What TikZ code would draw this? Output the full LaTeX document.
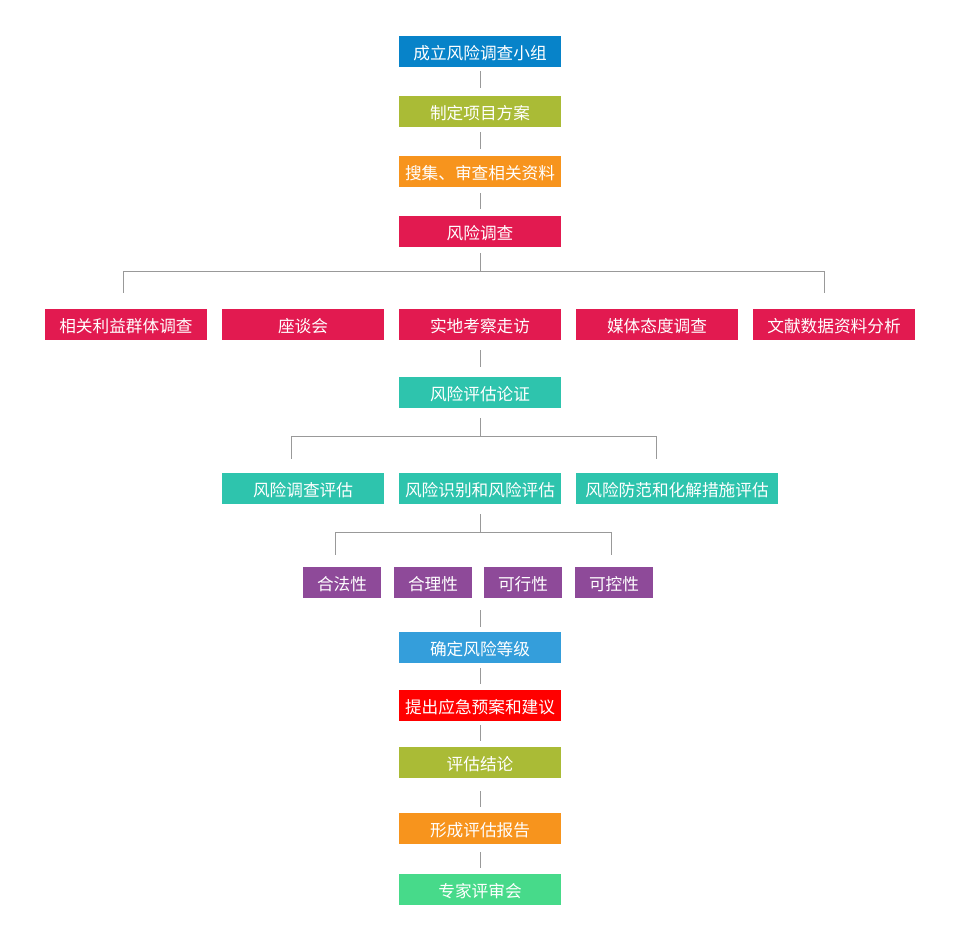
\documentclass[tikz,border=0pt]{standalone}
\usepackage{fontspec}
\newfontfamily\cjk{Noto Sans CJK SC}
\definecolor{stepdeep}{RGB}{7,131,201}
\definecolor{stepolive}{RGB}{170,187,54}
\definecolor{steporange}{RGB}{247,148,29}
\definecolor{stepred}{RGB}{226,26,80}
\definecolor{stepteal}{RGB}{46,196,173}
\definecolor{steppurple}{RGB}{142,74,153}
\definecolor{stepblue}{RGB}{52,158,219}
\definecolor{stepgreen}{RGB}{71,218,138}
\definecolor{linegray}{RGB}{153,153,153}

\begin{document}
\begin{tikzpicture}[x=0.75pt, y=-0.75pt,
    card/.style={rectangle, inner sep=0pt, minimum width=121.5pt, minimum height=23.25pt,
        text height=12.5pt, text depth=1pt,
        text=white, font=\cjk\fontsize{12.5}{15}\selectfont},
    small/.style={card, minimum width=58.5pt},
    link/.style={draw=linegray, line width=0.75pt}]
    \useasboundingbox (0,0) rectangle (958,951);

    % main column, top part
    \node[card, fill=stepdeep] (found) at (480,51.5) {成立风险调查小组};
    \node[card, fill=stepolive] (plan) at (480,111.5) {制定项目方案};
    \node[card, fill=steporange] (collect) at (480,171.5) {搜集、审查相关资料};
    \node[card, fill=stepred] (survey) at (480,231.5) {风险调查};

    % survey methods
    \foreach \x/\t [count=\i] in {126/相关利益群体调查, 303/座谈会, 480/实地考察走访, 657/媒体态度调查, 834/文献数据资料分析} {
        \node[card, fill=stepred] (s\i) at (\x,324.5) {\t};
    }
    \node[card, fill=stepteal] (assess) at (480,392.5) {风险评估论证};

    % evaluation parts
    \node[card, fill=stepteal] (e1) at (303,488.5) {风险调查评估};
    \node[card, fill=stepteal] (e2) at (480,488.5) {风险识别和风险评估};
    \node[card, fill=stepteal, minimum width=151.5pt] (e3) at (677,488.5) {风险防范和化解措施评估};

    % criteria
    \foreach \x/\t [count=\i] in {342/合法性, 433/合理性, 523/可行性, 614/可控性} {
        \node[small, fill=steppurple] (p\i) at (\x,582.5) {\t};
    }

    % main column, bottom part
    \node[card, fill=stepblue] (grade) at (480,647.5) {确定风险等级};
    \node[card, fill=red] (advise) at (480,705.5) {提出应急预案和建议};
    \node[card, fill=stepolive] (concl) at (480,762.5) {评估结论};
    \node[card, fill=steporange] (report) at (480,828.5) {形成评估报告};
    \node[card, fill=stepgreen] (review) at (480,889.5) {专家评审会};

    % hubs
    \coordinate (hub1) at (480,271.3);
    \coordinate (hub2) at (480,436);
    \coordinate (hub3) at (480,532.3);
    \coordinate (hub4) at (480,610);

    % connectors
    \draw[link, shorten <=3pt, shorten >=6pt] (found) -- (plan);
    \draw[link, shorten <=3.75pt, shorten >=5.25pt] (plan) -- (collect);
    \draw[link, shorten <=4.5pt, shorten >=5.25pt] (collect) -- (survey);
    \draw[link, shorten <=4.5pt] (survey) -- (hub1);
    \draw[link] (hub1) -| ([xshift=-2pt, yshift=11.5pt]s1.north);
    \draw[link] (hub1) -| ([xshift=-7.25pt, yshift=11.5pt]s5.north);
    \draw[link, shorten <=7.5pt, shorten >=7.5pt] (s3) -- (assess);
    \draw[link, shorten <=7.5pt] (assess) -- (hub2);
    \draw[link] (hub2) -| ([xshift=-8.75pt, yshift=10.25pt]e1.north);
    \draw[link] (hub2) -| ([xshift=-15.5pt, yshift=10.25pt]e3.north);
    \draw[link, shorten <=7.5pt] (e2) -- (hub3);
    \draw[link] (hub3) -| ([xshift=-5pt, yshift=8.5pt]p1.north);
    \draw[link] (hub3) -| ([xshift=-2pt, yshift=8.5pt]p4.north);
    \draw[link, shorten >=3.75pt] (hub4) -- (grade);
    \draw[link, shorten <=3.75pt, shorten >=4.5pt] (grade) -- (advise);
    \draw[link, shorten <=3pt, shorten >=4.5pt] (advise) -- (concl);
    \draw[link, shorten <=9.75pt, shorten >=4.5pt] (concl) -- (report);
    \draw[link, shorten <=6pt, shorten >=4.5pt] (report) -- (review);
\end{tikzpicture}
\end{document}
